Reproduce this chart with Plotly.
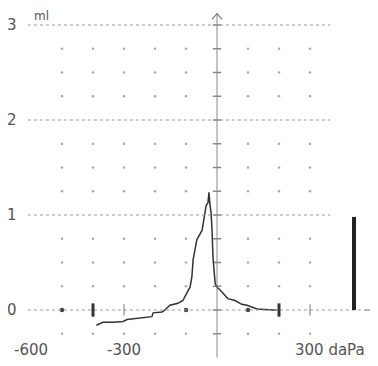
import plotly.graph_objects as go

# ---- data ----
pressure = [-389, -368, -335, -303, -290, -248, -210, -206, -177, -168, -152, -126, -110,
            -97, -87, -81, -77, -65, -48, -39, -35, -29, -26, -23, -19, -16, -13, -6, 0,
            10, 35, 58, 80, 97, 129, 181, 194]
compliance = [-0.16, -0.13, -0.13, -0.12, -0.10, -0.085, -0.07, -0.03, -0.02, 0.0, 0.05, 0.07, 0.10,
              0.18, 0.24, 0.35, 0.53, 0.74, 0.84, 1.02, 1.10, 1.13, 1.24, 1.12, 1.02, 0.84, 0.56, 0.28, 0.24,
              0.21, 0.12, 0.10, 0.06, 0.05, 0.01, 0.0, 0.0]
volume_x = 442
volume_ml = 0.98
y_major = [0, 1, 2, 3]
y_labels = ["0", "1", "2", "3"]
x_tick_vals = [-600, -300, 300]
x_tick_labels = ["-600", "-300", "300 daPa"]
grid_cols = [-500, -400, -300, -200, -100, 100, 200, 300]
grid_rows = [-0.25, 0.25, 0.5, 0.75, 1.25, 1.5, 1.75, 2.25, 2.5, 2.75]

# page has 8px body margin: fig px = window px - 8
OX, OY = 217 - 8, 310 - 8
XR = [-OX / 0.31, (378 - OX) / 0.31]
YR = [(OY - 366) / 95, OY / 95]

fig = go.Figure()
GRID = "#9a9a9a"
TXT = "#555555"
AX = "#777777"

shapes = []
for v in y_major[1:]:
    shapes.append(dict(type="line", x0=-610, x1=365, y0=v, y1=v,
                       line=dict(color=GRID, width=1, dash="dot")))
shapes.append(dict(type="line", x0=-610, x1=480, y0=0, y1=0,
                   line=dict(color=GRID, width=1, dash="dot")))
shapes.append(dict(type="line", x0=0, x1=0, y0=-0.5, y1=3.12,
                   line=dict(color="#888888", width=1)))
shapes.append(dict(type="line", x0=volume_x, x1=volume_x, y0=0, y1=volume_ml,
                   line=dict(color="#222222", width=4)))
for xv in [-400, 200]:
    shapes.append(dict(type="line", x0=xv, x1=xv, y0=-0.07, y1=0.07,
                       line=dict(color="#333333", width=3)))
for xv in [-300, 300]:
    shapes.append(dict(type="line", x0=xv, x1=xv, y0=-0.06, y1=0.06,
                       line=dict(color=AX, width=1)))
shapes.append(dict(type="line", x0=478, x1=512, y0=0, y1=0,
                   line=dict(color=AX, width=1)))

gx, gy = [], []
for r in grid_rows:
    for c in grid_cols:
        gx.append(c)
        gy.append(r)
fig.add_trace(go.Scatter(x=gx, y=gy, mode="markers",
                         marker=dict(size=2.5, color="#aaaaaa"), hoverinfo="skip"))
tk = [v / 4 for v in range(-1, 13)]
fig.add_trace(go.Scatter(x=[0] * len(tk), y=tk, mode="markers",
                         marker=dict(symbol="line-ew", size=6,
                                     line=dict(width=1.5, color="#888888")),
                         hoverinfo="skip"))
fig.add_trace(go.Scatter(x=[-500, -100, 100], y=[0, 0, 0], mode="markers",
                         marker=dict(size=4.5, color="#444444"), hoverinfo="skip"))
# arrow heads (chevrons)
fig.add_trace(go.Scatter(x=[-16, 0, 16, None, 496, 512, 496],
                         y=[3.06, 3.12, 3.06, None, 0.045, 0, -0.045],
                         mode="lines", line=dict(color=AX, width=1.2), hoverinfo="skip"))

fig.add_trace(go.Scatter(x=pressure, y=compliance, mode="lines",
                         line=dict(color="#333333", width=1.5), hoverinfo="skip"))

ann = []
for v, lab in zip(y_major, y_labels):
    ann.append(dict(x=-662, y=v, text=lab, showarrow=False, xref="x", yref="y",
                    font=dict(family="DejaVu Sans", size=15, color=TXT)))
ann.append(dict(x=-565, y=3.1, text="ml", showarrow=False, xref="x", yref="y",
                font=dict(family="DejaVu Sans", size=12, color=TXT)))
for v, lab in zip(x_tick_vals, x_tick_labels):
    if lab.endswith("daPa"):
        ann.append(dict(x=v - 55, y=-0.42, text=lab, showarrow=False, xref="x", yref="y",
                        xanchor="left", font=dict(family="DejaVu Sans", size=15, color=TXT)))
    else:
        ann.append(dict(x=v, y=-0.42, text=lab, showarrow=False, xref="x", yref="y",
                        font=dict(family="DejaVu Sans", size=15, color=TXT)))

fig.update_layout(
    width=378, height=366, autosize=False,
    margin=dict(l=0, r=0, t=0, b=0),
    paper_bgcolor="white", plot_bgcolor="white",
    showlegend=False,
    xaxis=dict(range=XR, visible=False, fixedrange=True),
    yaxis=dict(range=YR, visible=False, fixedrange=True),
    shapes=shapes, annotations=ann,
)
fig.write_html("out.html")
